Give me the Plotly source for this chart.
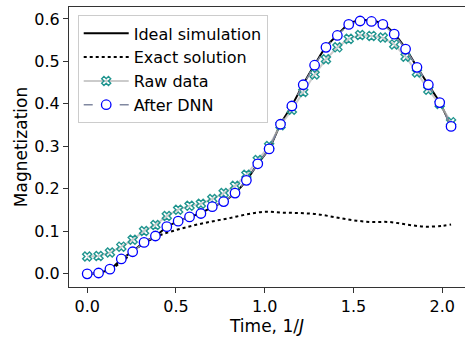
import numpy as np
import plotly.graph_objects as go

# time grid of the measured points
n_points = 33
t_end = 2.05
time = [round(i * t_end / (n_points - 1), 5) for i in range(n_points)]

ideal = [0.000, 0.002, 0.011, 0.034, 0.053, 0.074, 0.089, 0.110, 0.124, 0.134,
         0.143, 0.157, 0.170, 0.190, 0.220, 0.259, 0.295, 0.352, 0.396, 0.446,
         0.492, 0.534, 0.562, 0.588, 0.597, 0.596, 0.588, 0.565, 0.530, 0.487,
         0.445, 0.403, 0.347]

after_dnn = [0.000, 0.002, 0.011, 0.035, 0.052, 0.074, 0.089, 0.111, 0.124, 0.134,
             0.142, 0.158, 0.170, 0.190, 0.220, 0.259, 0.294, 0.352, 0.395, 0.445,
             0.491, 0.533, 0.561, 0.587, 0.595, 0.594, 0.587, 0.564, 0.529, 0.486,
             0.445, 0.403, 0.347]

raw_data = [0.041, 0.042, 0.050, 0.064, 0.080, 0.101, 0.115, 0.136, 0.151, 0.160,
            0.165, 0.176, 0.190, 0.207, 0.233, 0.268, 0.301, 0.350, 0.386, 0.428,
            0.469, 0.505, 0.533, 0.553, 0.562, 0.560, 0.556, 0.540, 0.511, 0.474,
            0.433, 0.400, 0.357]

exact_time = [0.0, 0.1, 0.2, 0.3, 0.4, 0.5, 0.6, 0.7, 0.8, 0.9, 1.0, 1.1,
              1.2, 1.3, 1.4, 1.5, 1.6, 1.7, 1.8, 1.9, 2.0, 2.05]
exact = [0.000, 0.005, 0.030, 0.066, 0.089, 0.103, 0.114, 0.123, 0.131, 0.140,
         0.146, 0.144, 0.143, 0.140, 0.133, 0.126, 0.122, 0.122, 0.116, 0.111,
         0.113, 0.116]

fig = go.Figure()
fig.add_trace(go.Scatter(x=time, y=ideal, mode="lines", name="Ideal simulation",
                         line=dict(color="black", width=2, shape="spline")))
fig.add_trace(go.Scatter(x=exact_time, y=exact, mode="lines", name="Exact solution",
                         line=dict(color="black", width=2, dash="dot", shape="spline")))
fig.add_trace(go.Scatter(x=time, y=raw_data, mode="lines+markers", name="Raw data",
                         line=dict(color="rgba(190,190,190,0.8)", width=2),
                         marker=dict(symbol="x-open", size=8, color="#20958f",
                                     line=dict(width=1.4, color="#20958f"))))
fig.add_trace(go.Scatter(x=time, y=after_dnn, mode="lines+markers", name="After DNN",
                         line=dict(color="#8088a0", width=1.5, dash="dash"),
                         marker=dict(symbol="circle", size=9.5, color="white",
                                     line=dict(width=1.3, color="blue"))))

axis_common = dict(showline=True, linecolor="#333", linewidth=1.2, mirror=True,
                   ticks="outside", ticklen=5, tickcolor="#333", showgrid=False,
                   zeroline=False, tickfont=dict(size=16, color="black"),
                   automargin=False)

fig.update_layout(
    width=465, height=337,
    margin=dict(l=69, r=0, t=7, b=50),
    paper_bgcolor="white", plot_bgcolor="white",
    font=dict(family="DejaVu Sans", size=16, color="black"),
    xaxis=dict(range=[-0.1025, 2.1285], tickvals=[0, 0.5, 1.0, 1.5, 2.0],
               ticktext=["0.0", "0.5", "1.0", "1.5", "2.0"],
               title=dict(text="Time, 1/<i>J</i>", font=dict(size=17), standoff=1),
               **axis_common),
    yaxis=dict(range=[-0.031, 0.628], tickvals=[0, 0.1, 0.2, 0.3, 0.4, 0.5, 0.6],
               ticktext=["0.0", "0.1", "0.2", "0.3", "0.4", "0.5", "0.6"],
               title=dict(text="Magnetization", font=dict(size=17), standoff=2),
               **axis_common),
    legend=dict(x=0.022, y=0.97, xanchor="left", yanchor="top",
                bgcolor="rgba(255,255,255,0.85)", bordercolor="#cccccc", borderwidth=1,
                font=dict(size=16), tracegroupgap=0, itemwidth=45),
    showlegend=True,
)

fig.write_html("out.html", config={"displayModeBar": False},
               post_script="document.body.style.margin='0';document.body.style.overflow='hidden';")
